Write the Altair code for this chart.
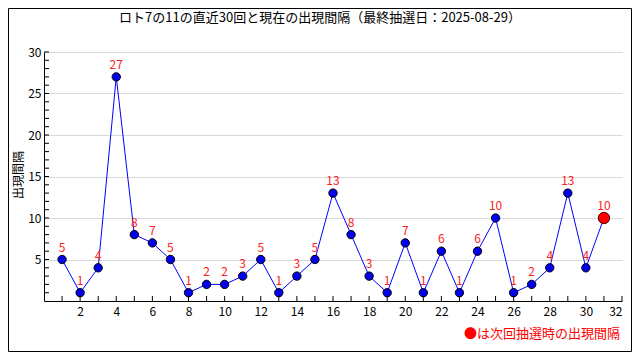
import altair as alt
import pandas as pd

# Data
draws = list(range(1, 32))
intervals = [5, 1, 4, 27, 8, 7, 5, 1, 2, 2, 3, 5, 1, 3, 5, 13, 8, 3, 1, 7,
             1, 6, 1, 6, 10, 1, 2, 4, 13, 4, 10]
kinds = ["past"] * 30 + ["current"]
x_major = list(range(2, 33, 2))
x_minor = list(range(1, 33))
y_major = [5, 10, 15, 20, 25, 30]
y_minor = list(range(1, 31))

title_text = "ロト7の11の直近30回と現在の出現間隔（最終抽選日：2025-08-29）"
y_title = "出現間隔"
legend_text = "●は次回抽選時の出現間隔"

FONT = "Noto Sans CJK JP"

df = pd.DataFrame({"x": draws, "y": intervals, "kind": kinds})
past = df[df.kind == "past"]
cur = df[df.kind == "current"]

PL, PT, PW, PH = 36, 44, 578, 249
TOTW, TOTH = 624, 344

xs = alt.Scale(domain=[0, 32], nice=False, zero=False)
ys = alt.Scale(domain=[0, 30], nice=False, zero=True)
xaxis = alt.Axis(values=x_major, ticks=False, grid=False, domainColor="black",
                 domainWidth=1, labelFont=FONT, labelFontSize=12,
                 labelColor="black", labelPadding=5, title=None)
yaxis = alt.Axis(values=y_major, ticks=False, grid=True, gridColor="#d8d8d8",
                 domainColor="black", domainWidth=1, labelFont=FONT,
                 labelFontSize=12, labelColor="black", labelPadding=3, title=None)
X = alt.X("x:Q", scale=xs, axis=xaxis, title=None)
Y = alt.Y("y:Q", scale=ys, axis=yaxis, title=None)

line = alt.Chart(df).mark_line(color="#0000ff", strokeWidth=1).encode(x=X, y=Y)

pts = alt.Chart(past).mark_point(filled=True, fill="#0000ee", stroke="black",
                                 strokeWidth=1, size=70, opacity=1).encode(x=X, y=Y)

cur_pt = alt.Chart(cur).mark_point(filled=True, fill="#ff0000", stroke="#550000",
                                   strokeWidth=1, size=130, opacity=1).encode(x=X, y=Y)

labels = alt.Chart(df).mark_text(color="#ff2020", font=FONT, fontSize=12, dy=-12,
                                 baseline="middle").encode(x=X, y=Y, text="y:Q")

xt = alt.Chart(pd.DataFrame({"x": x_minor})).mark_rule(color="black", strokeWidth=1).encode(
    x=X, y=alt.value(PH), y2=alt.value(PH - 5),
)
yt = alt.Chart(pd.DataFrame({"y": y_minor})).mark_rule(color="black", strokeWidth=1).encode(
    y=Y, x=alt.value(0), x2=alt.value(5),
)

one = alt.Data(values=[{"a": 1}])
L, R, T, B = 0.5 - PL, TOTW - 0.5 - PL, 0.5 - PT, TOTH - 0.5 - PT
border = [
    alt.Chart(one).mark_rule(color="black", strokeWidth=1).encode(
        x=alt.value(L), x2=alt.value(R), y=alt.value(T)),
    alt.Chart(one).mark_rule(color="black", strokeWidth=1).encode(
        x=alt.value(L), x2=alt.value(R), y=alt.value(B)),
    alt.Chart(one).mark_rule(color="black", strokeWidth=1).encode(
        y=alt.value(T), y2=alt.value(B), x=alt.value(L)),
    alt.Chart(one).mark_rule(color="black", strokeWidth=1).encode(
        y=alt.value(T), y2=alt.value(B), x=alt.value(R)),
]
title = alt.Chart(one).mark_text(text=title_text, font=FONT, fontSize=13, color="black",
                                 align="center", baseline="middle").encode(
    x=alt.value(TOTW / 2 - PL), y=alt.value(-34),
)
ytitle = alt.Chart(one).mark_text(text=y_title, font=FONT, fontSize=12, color="black",
                                  align="center", baseline="middle", angle=270).encode(
    x=alt.value(-25), y=alt.value(123),
)
legend = alt.Chart(one).mark_text(text=legend_text, font=FONT, fontSize=13, color="#ff0000",
                                  align="right", baseline="middle").encode(
    x=alt.value(PW - 2), y=alt.value(282),
)

chart = alt.layer(line, xt, yt, pts, cur_pt, labels, *border, title, ytitle, legend).properties(
    width=PW, height=PH,
    autosize=alt.AutoSizeParams(type="none"),
    padding={"left": PL, "top": PT, "right": TOTW - PL - PW, "bottom": TOTH - PT - PH},
    background="white",
).configure_view(stroke=None)

chart.save("out.html", embed_options={"renderer": "svg", "actions": False})
